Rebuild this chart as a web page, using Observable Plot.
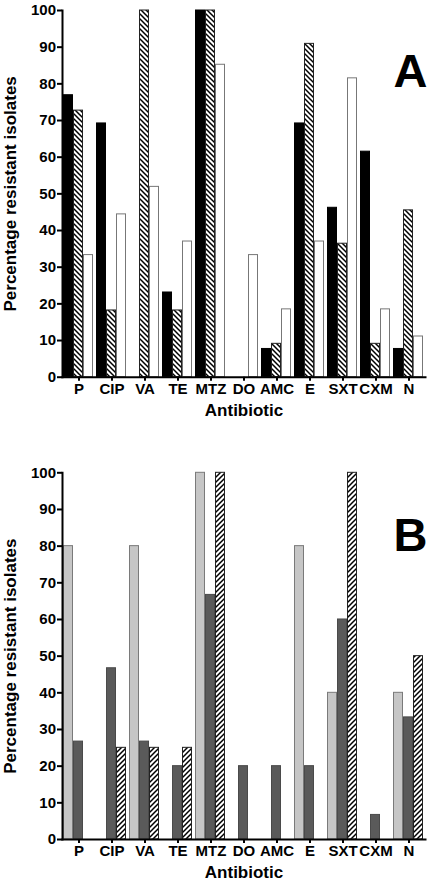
<!DOCTYPE html>
<html>
<head>
<meta charset="utf-8">
<script src="https://cdn.jsdelivr.net/npm/d3@7"></script>
<script src="https://cdn.jsdelivr.net/npm/@observablehq/plot@0.6"></script>
<style>
  html, body { margin: 0; padding: 0; background: #fff; }
  #chart svg { display: block; }
</style>
</head>
<body>
<svg width="0" height="0" style="position:absolute">
  <defs>
    <pattern id="hatchA" patternUnits="userSpaceOnUse" width="5" height="5">
      <rect width="5" height="5" fill="#fff"/>
      <path d="M-1,-1 L6,6 M-1,4 L1,6 M4,-1 L6,1" stroke="#000" stroke-width="1.5"/>
    </pattern>
    <pattern id="hatchB" patternUnits="userSpaceOnUse" width="5" height="5">
      <rect width="5" height="5" fill="#fff"/>
      <path d="M-1,6 L6,-1 M-1,1 L1,-1 M4,6 L6,4" stroke="#000" stroke-width="1.5"/>
    </pattern>
  </defs>
</svg>
<div id="chart"></div>
<script>
// Categories and tick labels
const antibiotics = ["P", "CIP", "VA", "TE", "MTZ", "DO", "AMC", "E", "SXT", "CXM", "N"];
const yTicks = [0, 10, 20, 30, 40, 50, 60, 70, 80, 90, 100];

// Panel A series (solid black, hatched, open)
const seriesA = ["A1", "A2", "A3"];
const a1 = [76.9, 69.2, 0, 23.1, 100, 0, 7.7, 69.2, 46.2, 61.5, 7.7];
const a2 = [72.7, 18.2, 100, 18.2, 100, 0, 9.1, 90.9, 36.4, 9.1, 45.5];
const a3 = [33.3, 44.4, 51.9, 37.0, 85.2, 33.3, 18.5, 37.0, 81.5, 18.5, 11.1];

// Panel B series (light grey, dark grey, hatched)
const seriesB = ["B1", "B2", "B3"];
const b1 = [80, 0, 80, 0, 100, 0, 0, 80, 40, 0, 40];
const b2 = [26.7, 46.7, 26.7, 20, 66.7, 20, 20, 20, 60, 6.7, 33.3];
const b3 = [0, 25, 25, 25, 100, 0, 0, 0, 100, 0, 50];

function rows(vals, s) {
  return antibiotics.map((ab, i) => ({ab, s, v: vals[i]})).filter(d => d.v > 0);
}

const FONT = "'Liberation Sans', Arial, Helvetica, sans-serif";

function panel({series, vals, styles, letter, marginTop, marginBottom, letterDy}) {
  const bars = vals.map((v, k) => Plot.barY(rows(v, series[k]), {
    fx: "ab", x: "s", y: "v",
    fill: styles[k].fill, stroke: styles[k].stroke, strokeWidth: 1,
    insetLeft: 0.5, insetRight: 0.5
  }));
  return Plot.plot({
    width: 435,
    height: 441,
    marginLeft: 62,
    marginRight: 7,
    marginTop,
    marginBottom,
    style: {fontFamily: FONT, color: "#000", background: "#fff"},
    fx: {domain: antibiotics, paddingInner: 0, paddingOuter: 0.045, align: 0, label: null},
    x: {domain: series, paddingInner: 0, paddingOuter: 0.15, align: 0.333, axis: null},
    y: {domain: [0, 100], label: null},
    marks: [
      ...bars,
      Plot.axisY({ticks: yTicks, tickSize: 5, tickPadding: 1.5, fontSize: 15, fontWeight: "bold", strokeWidth: 2, label: null}),
      Plot.axisFx({anchor: "bottom", tickSize: 4, tickPadding: 2, fontSize: 15, fontWeight: "bold", strokeWidth: 2, label: null}),
      Plot.frame({anchor: "left", strokeWidth: 2, facet: "super"}),
      Plot.frame({anchor: "bottom", strokeWidth: 2, facet: "super"}),
      Plot.text(["Antibiotic"], {frameAnchor: "bottom", textAnchor: "middle", lineAnchor: "middle", dy: 33, fontSize: 17, fontWeight: "bold", facet: "super"}),
      Plot.text(["Percentage resistant isolates"], {frameAnchor: "left", textAnchor: "middle", lineAnchor: "middle", rotate: -90, dx: -52, fontSize: 17, fontWeight: "bold", facet: "super"}),
      Plot.text([letter], {frameAnchor: "top-right", textAnchor: "end", lineAnchor: "top", dx: 2, dy: letterDy, fontSize: 47, fontWeight: "bold", facet: "super"})
    ]
  });
}

const chartA = panel({
  series: seriesA,
  vals: [a1, a2, a3],
  styles: [
    {fill: "#000", stroke: "#000"},
    {fill: "url(#hatchA)", stroke: "#222"},
    {fill: "#fff", stroke: "#777"}
  ],
  letter: "A",
  marginTop: 10,
  marginBottom: 64.3,
  letterDy: 43
});

const chartB = panel({
  series: seriesB,
  vals: [b1, b2, b3],
  styles: [
    {fill: "#c6c6c6", stroke: "#7a7a7a"},
    {fill: "#5a5a5a", stroke: "#4a4a4a"},
    {fill: "url(#hatchB)", stroke: "#222"}
  ],
  letter: "B",
  marginTop: 31.3,
  marginBottom: 43,
  letterDy: 44.7
});

document.getElementById("chart").append(chartA, chartB);
</script>
</body>
</html>
